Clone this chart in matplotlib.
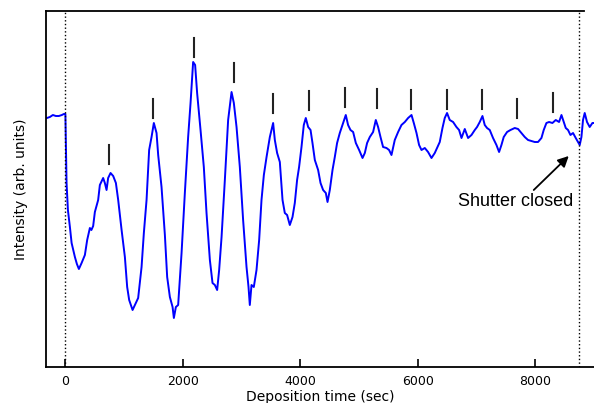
import matplotlib
matplotlib.use("Agg")
from matplotlib import pyplot as plt

# RHEED-style intensity trace
time_s = [-315, -264, -213, -162, -111, -60, -26, 0,
          20, 43, 77, 106, 162, 196, 230, 276, 332, 371, 417, 443, 473, 502, 558, 587,
          643, 672, 701, 728, 769, 814, 860, 899, 957, 1013, 1052, 1086, 1144, 1183,
          1239, 1297, 1336, 1382, 1426, 1467, 1506, 1552, 1580, 1637, 1694, 1733, 1779,
          1825, 1847, 1881, 1920, 1978, 2034, 2090, 2131, 2175, 2209, 2243, 2301, 2357,
          2403, 2460, 2505, 2545, 2584, 2618, 2659, 2715, 2771, 2829, 2868, 2914, 2970,
          3026, 3084, 3118, 3140, 3169, 3208, 3254, 3299, 3339, 3379, 3425, 3481, 3537,
          3566, 3605, 3651, 3697, 3736, 3775, 3821, 3867, 3906, 3945, 3979, 4020, 4059,
          4093, 4133, 4174, 4207, 4247, 4303, 4344, 4388, 4434, 4463, 4502, 4548, 4587,
          4626, 4672, 4718, 4774, 4813, 4854, 4899, 4945, 5001, 5059, 5098, 5137, 5183,
          5239, 5285, 5324, 5365, 5409, 5467, 5511, 5552, 5608, 5665, 5722, 5779, 5835,
          5893, 5932, 5978, 6022, 6063, 6119, 6175, 6233, 6289, 6328, 6374, 6420, 6459,
          6498, 6544, 6601, 6658, 6703, 6744, 6800, 6856, 6914, 6970, 7009, 7055, 7101,
          7140, 7179, 7225, 7281, 7339, 7384, 7424, 7463, 7520, 7578, 7651, 7707, 7765,
          7821, 7877, 7935, 7991, 8047, 8105, 8144, 8190, 8235, 8292, 8349, 8405, 8446,
          8485, 8519, 8558, 8599, 8643, 8689, 8728, 8757, 8786, 8813, 8842, 8881, 8927,
          8973, 8995]
intensity = [249, 250, 252, 251, 251, 252, 253, 253,
             184, 157, 140, 124, 110, 103, 98, 104, 112, 127, 139, 137, 141, 155, 167, 182,
             189, 184, 177, 189, 194, 191, 184, 167, 137, 110, 80, 67, 57, 62,
             69, 100, 134, 167, 217, 230, 244, 234, 212, 180, 132, 90, 70,
             60, 49, 60, 62, 114, 174, 230, 264, 305, 302, 274, 237, 200,
             154, 107, 84, 82, 77, 97, 130, 187, 247, 275, 264, 240, 200,
             147, 100, 80, 62, 82, 80, 97, 127, 167, 192, 210, 230, 244,
             227, 214, 205, 167, 154, 152, 142, 150, 164, 187, 200, 220, 242,
             249, 240, 237, 224, 207, 197, 184, 177, 174, 165, 177, 197, 210,
             224, 234, 242, 252, 242, 237, 235, 224, 217, 209, 214, 224, 230,
             235, 247, 240, 230, 220, 219, 217, 212, 227, 235, 242, 245, 249,
             252, 244, 234, 222, 217, 219, 215, 209, 214, 219, 225, 239, 249,
             254, 247, 245, 240, 237, 229, 238, 229, 232, 237, 240, 245, 251,
             242, 239, 237, 229, 222, 215, 222, 230, 235, 237, 239, 238, 234,
             230, 227, 226, 225, 225, 229, 237, 244, 245, 244, 247, 245, 252,
             245, 239, 237, 232, 234, 229, 225, 222, 230, 247, 254, 245, 240,
             244, 244]

# peak markers (time, top of marker)
peak_times = [740, 1494, 2187, 2868, 3537, 4150, 4762, 5307, 5881, 6499, 7089, 7690, 8303]
peak_tops = [222, 268, 329, 304, 273, 276, 279, 278, 277, 277, 277, 268, 274]
marker_len = 19

shutter_open = 0
shutter_closed = 8737

fig = plt.figure(figsize=(5.94, 4.03), dpi=100)
ax = fig.add_axes([46 / 594, 36 / 403, 548 / 594, 356.5 / 403])

ax.plot(time_s, intensity, color="#0000ff", lw=1.4)

for t, top in zip(peak_times, peak_tops):
    ax.plot([t, t], [top - marker_len, top], color="#222222", lw=1.5)

ax.axvline(shutter_open, color="black", ls=":", lw=1)
ax.axvline(shutter_closed, color="black", ls=":", lw=1)

ax.annotate("", xy=(8570, 211), xytext=(7974, 177),
            arrowprops=dict(arrowstyle="-|>", color="black", lw=1.3,
                            mutation_scale=16, shrinkA=0, shrinkB=0))
ax.text(7667, 166, "Shutter closed", ha="center", va="center",
        fontsize=13, family="Liberation Sans")

ax.set_xlim(-330, 9000)
ax.set_ylim(0, 356.5)
ax.set_xticks([0, 2000, 4000, 6000, 8000])
ax.set_yticks([])
ax.tick_params(axis="x", direction="in", length=6, width=1.2, pad=6, labelsize=9)

for side in ["left", "bottom", "top"]:
    ax.spines[side].set_linewidth(1.3)
ax.spines["right"].set_visible(False)
ax.spines["top"].set_bounds(-330, 8826)

ax.set_xlabel("Deposition time (sec)", fontsize=10, labelpad=1)
ax.set_ylabel("Intensity (arb. units)", fontsize=10, labelpad=13)

plt.savefig("out.png", dpi=100)
